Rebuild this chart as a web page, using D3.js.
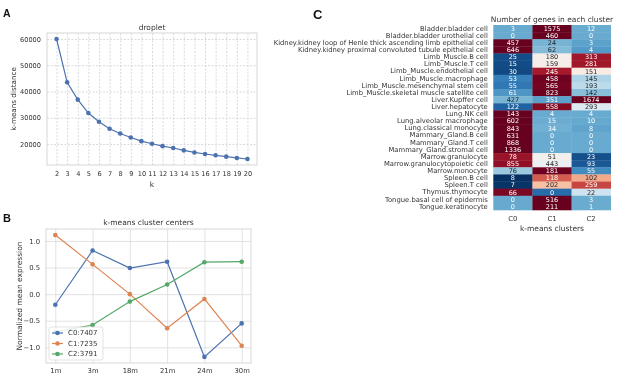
<!DOCTYPE html>
<html>
<head>
<meta charset="utf-8">
<script src="https://cdn.jsdelivr.net/npm/d3@7"></script>
<style>
  body { margin: 0; background: #fff; }
  text { font-family: "DejaVu Sans", sans-serif; fill: #333; }
  .grid line { stroke: #dadada; stroke-width: 0.8; }
  .grid .domain { display: none; }
  .dashed line { stroke-dasharray: 2,1.5; stroke: #cfd0d6; }
  .panel-label { font-family: "Liberation Sans", Arial, sans-serif; font-weight: bold; fill: #111; }
</style>
</head>
<body>
<div id="chart"></div>
<script>
var svgWidth = 617;
var svgHeight = 377;

// panel A: elbow curve
var kValues = [2, 3, 4, 5, 6, 7, 8, 9, 10, 11, 12, 13, 14, 15, 16, 17, 18, 19, 20];
var kDistance = [60000, 43500, 36900, 31800, 28500, 25800, 24000, 22500, 21100, 20100,
  19200, 18500, 17600, 16800, 16200, 15700, 15200, 14700, 14300];
var distTicks = [20000, 30000, 40000, 50000, 60000];

// panel B: cluster centers
var ages = ["1m", "3m", "18m", "21m", "24m", "30m"];
var centerC0 = [-0.20, 0.82, 0.49, 0.61, -1.18, -0.55];
var centerC1 = [1.11, 0.56, 0.00, -0.64, -0.09, -0.97];
var centerC2 = [-0.71, -0.58, -0.14, 0.18, 0.60, 0.61];
var centerNames = ["C0:7407", "C1:7235", "C2:3791"];
var centerTicks = [-1.0, -0.5, 0.0, 0.5, 1.0];

// panel C: genes per cluster
var cellTypes = [
  "Bladder.bladder cell",
  "Bladder.bladder urothelial cell",
  "Kidney.kidney loop of Henle thick ascending limb epithelial cell",
  "Kidney.kidney proximal convoluted tubule epithelial cell",
  "Limb_Muscle.B cell",
  "Limb_Muscle.T cell",
  "Limb_Muscle.endothelial cell",
  "Limb_Muscle.macrophage",
  "Limb_Muscle.mesenchymal stem cell",
  "Limb_Muscle.skeletal muscle satellite cell",
  "Liver.Kupffer cell",
  "Liver.hepatocyte",
  "Lung.NK cell",
  "Lung.alveolar macrophage",
  "Lung.classical monocyte",
  "Mammary_Gland.B cell",
  "Mammary_Gland.T cell",
  "Mammary_Gland.stromal cell",
  "Marrow.granulocyte",
  "Marrow.granulocytopoietic cell",
  "Marrow.monocyte",
  "Spleen.B cell",
  "Spleen.T cell",
  "Thymus.thymocyte",
  "Tongue.basal cell of epidermis",
  "Tongue.keratinocyte"
];
var genesC0 = [3, 0, 457, 646, 25, 15, 30, 53, 55, 61, 427, 122, 143, 602, 843, 631, 868, 1336, 78, 855, 76, 8, 7, 66, 0, 0];
var genesC1 = [1575, 460, 24, 62, 180, 159, 245, 458, 565, 823, 351, 558, 4, 15, 34, 0, 0, 0, 51, 443, 181, 118, 202, 0, 516, 211];
var genesC2 = [12, 0, 3, 4, 313, 281, 151, 145, 193, 142, 1674, 293, 4, 10, 8, 0, 0, 0, 23, 93, 55, 102, 259, 22, 3, 1];
var clusters = ["C0", "C1", "C2"];

var blue = "#4c72b0", orange = "#dd8452", green = "#55a868";

var root = d3.select("#chart")
  .append("svg")
  .attr("width", svgWidth)
  .attr("height", svgHeight);

root.append("rect").attr("width", svgWidth).attr("height", svgHeight).attr("fill", "#fff");

// everything goes into one group (grayscale text antialiasing)
var svg = root.append("g").attr("opacity", 0.999);

// matplotlib style 5% margins
function padded(ext) {
  var m = (ext[1] - ext[0]) * 0.05;
  return [ext[0] - m, ext[1] + m];
}

function fmtTick(d) {
  return d3.format(".1f")(d).replace("-", "\u2212");
}

// ---------------- Panel A ----------------
var a = { left: 47, right: 257, top: 33, bottom: 165 };

var xA = d3.scaleLinear().domain(padded(d3.extent(kValues))).range([a.left, a.right]);
var yA = d3.scaleLinear().domain(padded(d3.extent(kDistance))).range([a.bottom, a.top]);

svg.append("g")
  .attr("class", "grid dashed")
  .attr("transform", `translate(0, ${a.bottom})`)
  .call(d3.axisBottom(xA).tickValues(kValues).tickFormat(d3.format("d")).tickSize(-(a.bottom - a.top)).tickPadding(6))
  .call(g => g.selectAll("text").style("font-size", "6.6px"));

svg.append("g")
  .attr("class", "grid dashed")
  .attr("transform", `translate(${a.left}, 0)`)
  .call(d3.axisLeft(yA).tickValues(distTicks).tickFormat(d3.format("d")).tickSize(-(a.right - a.left)).tickPadding(6))
  .call(g => g.selectAll("text").style("font-size", "6.6px"));

svg.append("rect")
  .attr("x", a.left).attr("y", a.top)
  .attr("width", a.right - a.left).attr("height", a.bottom - a.top)
  .attr("fill", "none").attr("stroke", "#cccccc").attr("stroke-width", 0.8);

var lineA = d3.line()
  .x((d, i) => xA(kValues[i]))
  .y(d => yA(d));

svg.append("path")
  .datum(kDistance)
  .attr("d", lineA)
  .attr("fill", "none")
  .attr("stroke", blue)
  .attr("stroke-width", 1.2);

svg.selectAll(".dotA")
  .data(kDistance)
  .enter()
  .append("circle")
  .attr("cx", (d, i) => xA(kValues[i]))
  .attr("cy", d => yA(d))
  .attr("r", 2.3)
  .attr("fill", blue);

svg.append("text")
  .attr("x", (a.left + a.right) / 2).attr("y", 29.5)
  .attr("text-anchor", "middle").style("font-size", "7.5px")
  .text("droplet");

svg.append("text")
  .attr("x", (a.left + a.right) / 2).attr("y", 187)
  .attr("text-anchor", "middle").style("font-size", "7.5px")
  .text("k");

svg.append("text")
  .attr("transform", `translate(13.5, ${(a.top + a.bottom) / 2}) rotate(-90)`)
  .attr("text-anchor", "middle").attr("dy", "0.35em").style("font-size", "7.2px")
  .text("k-means distance");

svg.append("text").attr("class", "panel-label")
  .attr("x", 3).attr("y", 17).style("font-size", "10.5px").text("A");

// ---------------- Panel B ----------------
var b = { left: 46, right: 251, top: 229, bottom: 363 };

var xB = d3.scalePoint().domain(ages).range([b.left, b.right]).padding(0.25);
var allCenters = centerC0.concat(centerC1, centerC2);
var yB = d3.scaleLinear().domain(padded(d3.extent(allCenters))).range([b.bottom, b.top]);

svg.append("g")
  .attr("class", "grid")
  .attr("transform", `translate(0, ${b.bottom})`)
  .call(d3.axisBottom(xB).tickSize(-(b.bottom - b.top)).tickPadding(5))
  .call(g => g.selectAll("text").style("font-size", "6.8px"));

svg.append("g")
  .attr("class", "grid")
  .attr("transform", `translate(${b.left}, 0)`)
  .call(d3.axisLeft(yB).tickValues(centerTicks).tickFormat(fmtTick).tickSize(-(b.right - b.left)).tickPadding(6))
  .call(g => g.selectAll("text").style("font-size", "6.8px"));

svg.append("rect")
  .attr("x", b.left).attr("y", b.top)
  .attr("width", b.right - b.left).attr("height", b.bottom - b.top)
  .attr("fill", "none").attr("stroke", "#cccccc").attr("stroke-width", 0.8);

var seriesB = [
  { name: centerNames[0], values: centerC0, color: blue },
  { name: centerNames[1], values: centerC1, color: orange },
  { name: centerNames[2], values: centerC2, color: green }
];

var lineB = d3.line()
  .x((d, i) => xB(ages[i]))
  .y(d => yB(d));

seriesB.forEach(function(s) {
  svg.append("path")
    .datum(s.values)
    .attr("d", lineB)
    .attr("fill", "none")
    .attr("stroke", s.color)
    .attr("stroke-width", 1.2);

  svg.selectAll(null)
    .data(s.values)
    .enter()
    .append("circle")
    .attr("cx", (d, i) => xB(ages[i]))
    .attr("cy", d => yB(d))
    .attr("r", 2.3)
    .attr("fill", s.color);
});

// legend
var legend = svg.append("g").attr("transform", "translate(49, 327)");
legend.append("rect")
  .attr("width", 54).attr("height", 33).attr("rx", 2)
  .attr("fill", "#fff").attr("fill-opacity", 0.85)
  .attr("stroke", "#d5d5d5").attr("stroke-width", 0.7);

seriesB.forEach(function(s, i) {
  var ly = 6 + i * 10.5;
  legend.append("line")
    .attr("x1", 3).attr("x2", 14).attr("y1", ly).attr("y2", ly)
    .attr("stroke", s.color).attr("stroke-width", 1.2);
  legend.append("circle")
    .attr("cx", 8.5).attr("cy", ly).attr("r", 2.3).attr("fill", s.color);
  legend.append("text")
    .attr("x", 19).attr("y", ly).attr("dy", "0.35em")
    .style("font-size", "7px")
    .text(s.name);
});

svg.append("text")
  .attr("x", (b.left + b.right) / 2).attr("y", 225)
  .attr("text-anchor", "middle").style("font-size", "7.5px")
  .text("k-means cluster centers");

svg.append("text")
  .attr("transform", `translate(19, ${(b.top + b.bottom) / 2}) rotate(-90)`)
  .attr("text-anchor", "middle").attr("dy", "0.35em").style("font-size", "7.5px")
  .text("Normalized mean expression");

svg.append("text").attr("class", "panel-label")
  .attr("x", 3).attr("y", 222).style("font-size", "11px").text("B");

// ---------------- Panel C ----------------
var c = { left: 493.3, right: 610.7, top: 25, bottom: 210 };

var xC = d3.scaleBand().domain(clusters).range([c.left, c.right]);
var yC = d3.scaleBand().domain(cellTypes).range([c.top, c.bottom]);

// row-wise z-score for the colours
var cells = [];
cellTypes.forEach(function(name, i) {
  var vals = [genesC0[i], genesC1[i], genesC2[i]];
  var mean = d3.mean(vals);
  var sd = Math.sqrt(d3.mean(vals, v => (v - mean) * (v - mean)));
  vals.forEach(function(v, j) {
    cells.push({ row: name, col: clusters[j], value: v, z: sd ? (v - mean) / sd : 0 });
  });
});

var color = d3.scaleSequential(t => d3.interpolateRdBu(1 - t))
  .domain(d3.extent(cells, d => d.z));

function luminance(col) {
  var rgb = d3.rgb(col);
  var ch = [rgb.r, rgb.g, rgb.b].map(function(v) {
    v = v / 255;
    return v <= 0.03928 ? v / 12.92 : Math.pow((v + 0.055) / 1.055, 2.4);
  });
  return 0.2126 * ch[0] + 0.7152 * ch[1] + 0.0722 * ch[2];
}

svg.selectAll(".cell")
  .data(cells)
  .enter()
  .append("rect")
  .attr("x", d => xC(d.col))
  .attr("y", d => yC(d.row))
  .attr("width", xC.bandwidth() + 0.3)
  .attr("height", yC.bandwidth() + 0.3)
  .attr("fill", d => color(d.z));

svg.selectAll(".annot")
  .data(cells)
  .enter()
  .append("text")
  .attr("x", d => xC(d.col) + xC.bandwidth() / 2)
  .attr("y", d => yC(d.row) + yC.bandwidth() / 2)
  .attr("dy", "0.36em")
  .attr("text-anchor", "middle")
  .style("font-size", "6.5px")
  .style("fill", d => luminance(color(d.z)) > 0.408 ? "#262626" : "#ffffff")
  .text(d => d.value);

svg.append("g")
  .attr("transform", `translate(${c.left}, 0)`)
  .call(d3.axisLeft(yC).tickSize(0).tickPadding(5.5))
  .call(g => g.select(".domain").remove())
  .call(g => g.selectAll("text").style("font-size", "6.8px"));

svg.append("g")
  .attr("transform", `translate(0, ${c.bottom})`)
  .call(d3.axisBottom(xC).tickSize(0).tickPadding(6))
  .call(g => g.select(".domain").remove())
  .call(g => g.selectAll("text").style("font-size", "6.8px"));

svg.append("text")
  .attr("x", (c.left + c.right) / 2).attr("y", 22)
  .attr("text-anchor", "middle").style("font-size", "7.5px")
  .text("Number of genes in each cluster");

svg.append("text")
  .attr("x", (c.left + c.right) / 2).attr("y", 230.5)
  .attr("text-anchor", "middle").style("font-size", "7.5px")
  .text("k-means clusters");

svg.append("text").attr("class", "panel-label")
  .attr("x", 313).attr("y", 18.5).style("font-size", "13px").text("C");
</script>
</body>
</html>
